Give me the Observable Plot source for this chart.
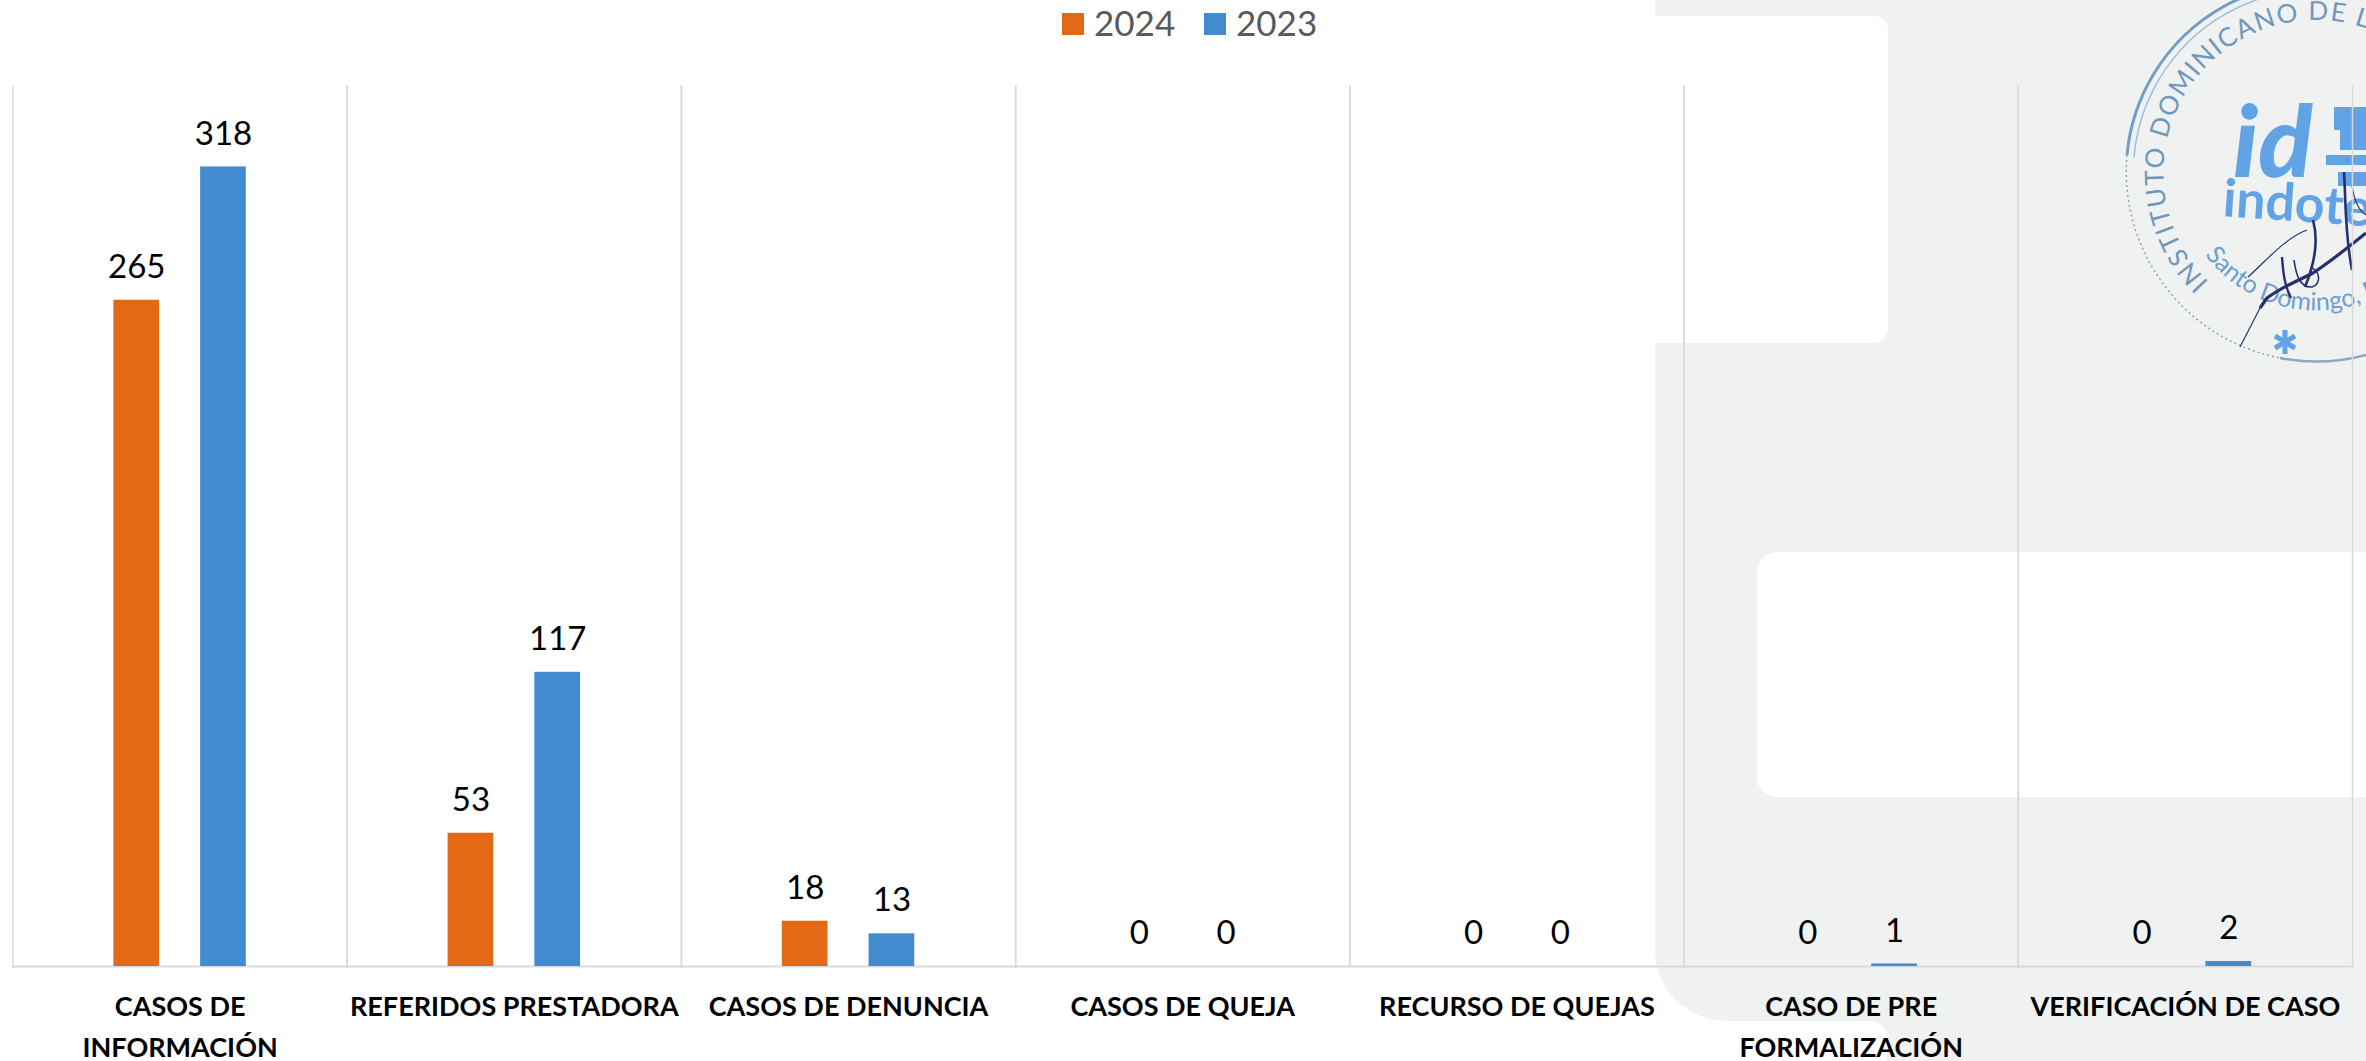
<!DOCTYPE html>
<html>
<head>
<meta charset="utf-8">
<script src="https://cdn.jsdelivr.net/npm/d3@7"></script>
<script src="https://cdn.jsdelivr.net/npm/@observablehq/plot@0.6"></script>
<style>
  html, body { margin: 0; padding: 0; background: #fff; width: 2366px; height: 1061px; overflow: hidden; }
  #page { position: relative; width: 2366px; height: 1061px; overflow: hidden; font-family: Lato, sans-serif; }
  .bg { position: absolute; }
  #legend { position: relative; height: 86px; }
  #legend .sw { position: absolute; width: 22px; height: 22px; top: 13px; }
  #legend .lb { position: absolute; top: 0; font-size: 35px; line-height: 44px; color: #595959; }
  #chart { position: relative; }
  #chart svg { background: transparent; display: block; max-width: none; }
</style>
</head>
<body>
<div id="page">
  <div class="bg" style="left:1655px;top:-20px;width:800px;height:1041px;background:#f0f2f1;border-radius:0 0 0 72px"></div>
  <div class="bg" style="left:1860px;top:1000px;width:600px;height:80px;background:#f0f2f1"></div>
  <div class="bg" style="left:1700px;top:1021px;width:187px;height:60px;background:#fff;border-radius:0 16px 0 0"></div>
  <div class="bg" style="left:1600px;top:16px;width:288px;height:327px;background:#fff;border-radius:0 14px 14px 0"></div>
  <div class="bg" style="left:1757px;top:552px;width:700px;height:245px;background:#fff;border-radius:20px"></div>
  <svg class="bg" style="left:0;top:0" width="2366" height="400" viewBox="0 0 2366 400" font-family="Lato, sans-serif">
    <defs>
      <path id="outerArc" d="M 2209 282 A 153 153 0 0 1 2392 40"></path>
      <path id="innerArc" d="M 2205 255 A 139 139 0 0 0 2416 268"></path>
    </defs>
    <path d="M 2127 155 A 190 190 0 0 1 2400 2" fill="none" stroke="#6f9fca" stroke-width="3"></path>
    <path d="M 2134 158 A 183 183 0 0 1 2400 10" fill="none" stroke="#9cbfdd" stroke-width="1.5"></path>
    <path d="M 2127 155 A 190 190 0 0 0 2400 342" fill="none" stroke="#8da3b6" stroke-width="1.5" stroke-dasharray="2 3"></path>
    <path d="M 2280 358 A 190 190 0 0 0 2366 355" fill="none" stroke="#8fa6c4" stroke-width="2.5"></path>
    <text font-size="26" fill="#6f97bd" letter-spacing="1.5"><textPath href="#outerArc">INSTITUTO DOMINICANO DE LA</textPath></text>
    <text font-size="25" fill="#6d9fd0"><textPath href="#innerArc">Santo Domingo, R.D.</textPath></text>
    <text x="2233" y="177" font-size="100" font-weight="900" font-style="italic" fill="#62a3e6">id</text>
    <text x="2222" y="216" font-size="52" font-weight="700" fill="#62a3e6" transform="rotate(4 2222 216)">indotel</text>
    <path d="M2334 107 H2366 V150 H2340 V130 H2334 Z M2326 155 H2366 V165 H2326 Z M2338 172 H2366 V186 H2338 Z" fill="#62a3e6"></path>
    <path d="M2285 330 V354 M2275 336 L2295 348 M2295 336 L2275 348" stroke="#62a3e6" stroke-width="5" fill="none"></path>
    <g fill="none" stroke="#26306e">
      <path d="M2240 347 L2260 308" stroke-width="1.2"></path>
      <path d="M2260 308 L2267 298 C2285 285 2300 280 2313 273 C2330 262 2345 250 2366 233" stroke-width="3.2"></path>
      <path d="M2248 277 C2265 262 2285 238 2307 230" stroke-width="1.2"></path>
      <path d="M2313 220 C2320 245 2312 270 2305 287" stroke-width="2.6"></path>
      <path d="M2344 172 C2346 205 2345 235 2352 270" stroke-width="2.6"></path>
      <path d="M2352 185 C2354 200 2358 210 2366 215" stroke-width="1.2"></path>
      <path d="M2282 257 C2283 270 2284 285 2291 298" stroke-width="2.4"></path>
      <path d="M2294 260 C2296 275 2300 288 2312 287 C2322 285 2320 268 2310 268" stroke-width="1.6"></path>
    </g>
  </svg>
  <div id="legend"></div>
  <div id="chart"></div>
</div>
<script>
const categories = [
  "CASOS DE\nINFORMACIÓN",
  "REFERIDOS PRESTADORA",
  "CASOS DE DENUNCIA",
  "CASOS DE QUEJA",
  "RECURSO DE QUEJAS",
  "CASO DE PRE\nFORMALIZACIÓN",
  "VERIFICACIÓN DE CASO"
];
const years = ["2024", "2023"];
const colors = ["#E36914", "#428BCF"];
const values2024 = [265, 53, 18, 0, 0, 0, 0];
const values2023 = [318, 117, 13, 0, 0, 1, 2];

const rows = categories.flatMap((category, i) => [
  {category, year: years[0], value: values2024[i]},
  {category, year: years[1], value: values2023[i]}
]);

const gridColor = "#d9d9d9";
const fontFamily = "Lato, sans-serif";

const plot = Plot.plot({
  width: 2366,
  height: 975,
  marginLeft: 12.5,
  marginRight: 14,
  marginTop: 0,
  marginBottom: 95,
  style: {background: "transparent", fontFamily, overflow: "visible"},
  fx: {domain: categories, padding: 0, round: false, label: null, axis: null},
  x: {domain: years, paddingInner: 0.473, paddingOuter: 1.163, round: false, axis: null, label: null},
  y: {domain: [0, 350], axis: null, label: null},
  color: {domain: years, range: colors},
  marks: [
    Plot.frame({anchor: "left", stroke: gridColor, strokeWidth: 1.5}),
    Plot.frame({anchor: "right", stroke: gridColor, strokeWidth: 1.5}),
    Plot.frame({anchor: "bottom", stroke: gridColor, strokeWidth: 2}),
    Plot.barY(rows, {fx: "category", x: "year", y: "value", fill: "year"}),
    Plot.text(rows, {
      fx: "category", x: "year", y: "value", text: d => String(d.value),
      dy: -33, lineAnchor: "middle", fontSize: 33, fill: "#000"
    }),
    Plot.axisFx({
      anchor: "bottom", tickSize: 0, tickPadding: 21, label: null,
      fontSize: 27, fontWeight: 700, lineHeight: 1.5, lineAnchor: "top",
      fill: "#000", textOverflow: null
    })
  ]
});
document.getElementById("chart").append(plot);

const legend = document.getElementById("legend");
const legendSwatchX = [1062, 1204];
years.forEach((year, i) => {
  const sw = document.createElement("div");
  sw.className = "sw";
  sw.style.left = legendSwatchX[i] + "px";
  sw.style.background = colors[i];
  const lb = document.createElement("div");
  lb.className = "lb";
  lb.style.left = (legendSwatchX[i] + 32) + "px";
  lb.textContent = year;
  legend.append(sw, lb);
});
</script>
</body>
</html>
